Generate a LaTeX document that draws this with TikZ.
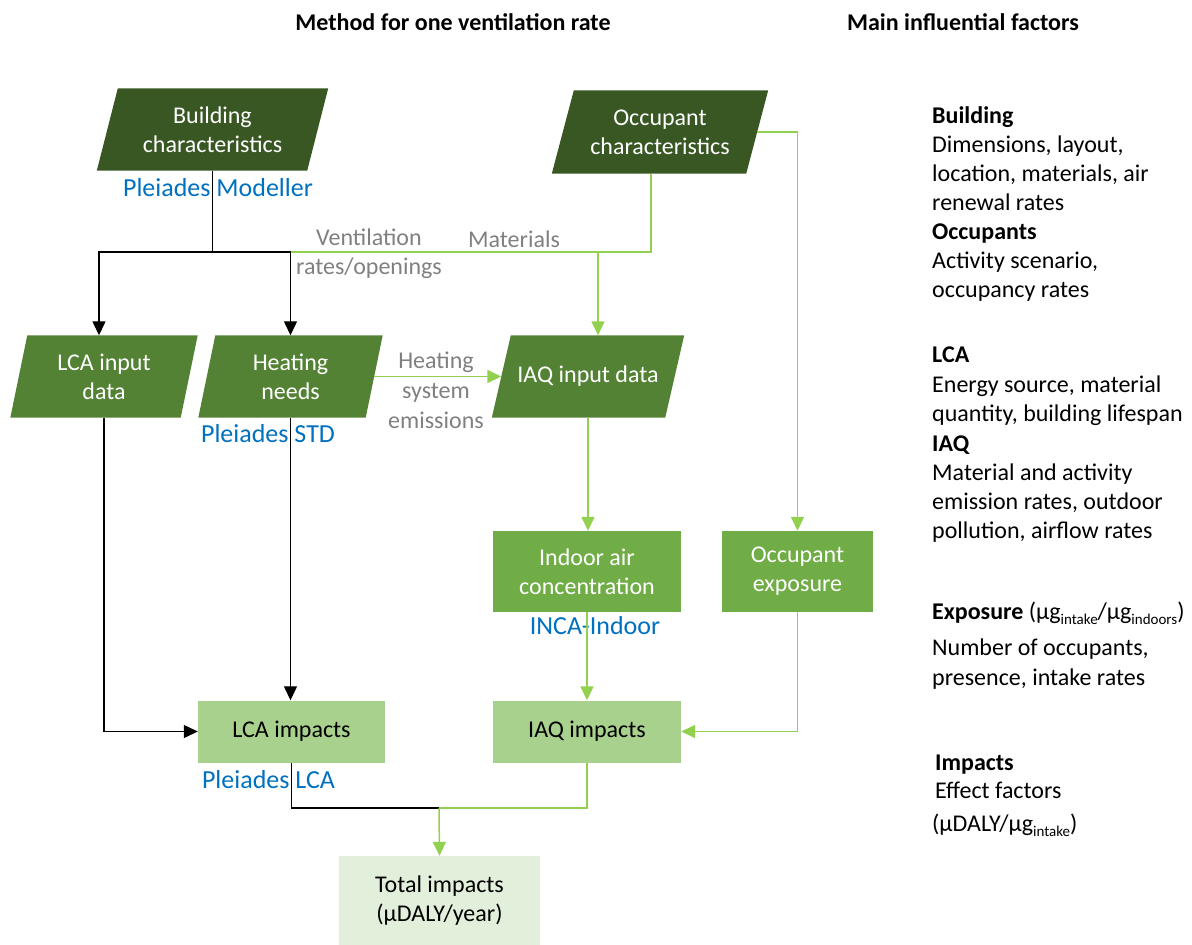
\documentclass[tikz,border=0pt]{standalone}
\usepackage{fontspec}
\setmainfont{Carlito}
\usetikzlibrary{arrows.meta,backgrounds,calc}
\definecolor{dkgreen}{HTML}{385723}
\definecolor{mdgreen}{HTML}{548235}
\definecolor{gthree}{HTML}{70AD47}
\definecolor{ltgreen}{HTML}{A9D18E}
\definecolor{vltgreen}{HTML}{E2EFDA}
\definecolor{lgreen}{HTML}{92D050}
\definecolor{tblue}{HTML}{0070C0}
\definecolor{tgray}{HTML}{808080}
\newcommand{\drawpara}[3]{\fill[#2] ([xshift=#3]#1.north west) -- ([xshift=#3]#1.north east) -- ([xshift=-#3]#1.south east) -- ([xshift=-#3]#1.south west) -- cycle;}
\newcommand{\lowsub}[1]{\raisebox{-4.5pt}{\fontsize{15}{15}\selectfont #1}}
\begin{document}
\begin{tikzpicture}[x=1pt,y=-1pt,
  base/.style={font=\fontsize{24}{29}\selectfont},
  pbox/.style={base,text=white,align=center,inner sep=0},
  rbox/.style={base,align=center,inner sep=0},
  lbl/.style={base,inner sep=0,text height=20pt,text depth=2.5pt},
  blbl/.style={lbl,text=tblue,font=\fontsize{26}{29}\selectfont},
  glbl/.style={base,text=tgray,align=center,inner sep=0},
  ttl/.style={lbl,font=\fontsize{24}{29}\selectfont\bfseries},
  bln/.style={line width=1.3pt,draw=black},
  gln/.style={line width=1.5pt,draw=lgreen},
  arr/.style={-{Triangle[width=13pt,length=14pt]}}]
\useasboundingbox (0,0) rectangle (1192,945);

% titles
\node[ttl] (t1) at (453,22) {Method for one ventilation rate};
\node[ttl] (t2) at (963,22) {Main influential factors};

% parallelogram nodes
\node[pbox,minimum width=210pt,minimum height=82pt] (bc) at (212.5,129.5) {Building\\characteristics};
\node[pbox,minimum width=194pt,minimum height=83pt] (oc) at (660,132) {Occupant\\characteristics};
\node[pbox,minimum width=170pt,minimum height=82pt] (lcain) at (104,376.5) {LCA input\\data};
\node[pbox,minimum width=167pt,minimum height=82pt] (heat) at (290.5,376.5) {Heating\\needs};
\node[pbox,minimum width=173pt,minimum height=82pt] (iaqin) at (588,376.5) {IAQ input data};
\begin{scope}[on background layer]
\drawpara{bc}{dkgreen}{10.5pt}
\drawpara{oc}{dkgreen}{11pt}
\drawpara{lcain}{mdgreen}{8.5pt}
\drawpara{heat}{mdgreen}{8.5pt}
\drawpara{iaqin}{mdgreen}{9.5pt}
\end{scope}

% rectangle nodes
\node[pbox,fill=gthree,minimum width=188pt,minimum height=81pt] (iac) at (587,571.5) {Indoor air\\concentration};
\node[pbox,fill=gthree,minimum width=151pt,minimum height=81pt] (oexp) at (797.5,571.5) {Occupant\\exposure};
\node[rbox,fill=ltgreen,minimum width=187pt,minimum height=62pt] (lcaimp) at (291.5,731.5) {LCA impacts};
\node[rbox,fill=ltgreen,minimum width=188pt,minimum height=62pt] (iaqimp) at (587,731.5) {IAQ impacts};
\node[rbox,fill=vltgreen,minimum width=201pt,minimum height=89pt] (tot) at (439.5,900.5) {Total impacts\\(µDALY/year)};

% tool labels
\node[blbl] (pm) at (218,188) {Pleiades Modeller};
\node[blbl] (pstd) at (268,434) {Pleiades STD};
\node[blbl] (inca) at (595,626) {INCA-Indoor};
\node[blbl] (plca) at (268.5,780) {Pleiades LCA};

% connector labels
\node[glbl] (lvent) at (369,254) {Ventilation\\rates/openings};
\node[glbl] (lmat) at (514,239.5) {Materials};
\node[glbl,font=\fontsize{24}{30}\selectfont] (lheat) at (436,390) {Heating\\system\\emissions};

% junctions
\coordinate (j1) at (bc.south |- 0,252);
\coordinate (j2) at ([xshift=10pt]iaqin.north |- j1);
\coordinate (j3) at (439,808);

% black connectors
\draw[bln] (bc.south) -- (j1);
\draw[bln,arr] (j1) -| ([xshift=-5pt]lcain.north);
\draw[bln,arr] (j1) -| (heat.north);
\draw[bln,arr] (lcain.south) |- (lcaimp.west);
\draw[bln,arr] (heat.south) -- (heat.south |- lcaimp.north);
\draw[bln] (lcaimp.south) |- (j3);

% green connectors
\draw[gln] (heat.north |- j1) -- (j2);
\draw[gln] ([xshift=-9pt]oc.south) |- (j2);
\draw[gln,arr] (j2) -- ([xshift=10pt]iaqin.north);
\draw[gln,arr] (oc.east) -| (oexp.north);
\draw[gln,arr] (heat.east) -- (iaqin.west);
\draw[gln,arr] (iaqin.south) -- (iaqin.south |- iac.north);
\draw[gln,arr] (iac.south) -- (iaqimp.north);
\draw[gln,arr] (oexp.south) |- (iaqimp.east);
\draw[gln] (iaqimp.south) |- (j3);
\draw[gln,arr] (j3) -- (tot.north);

% right column
\node[lbl,anchor=west] (r1) at (932,115) {\textbf{Building}};
\node[lbl,anchor=west] (r2) at (932,144) {Dimensions, layout,};
\node[lbl,anchor=west] (r3) at (932,173) {location, materials, air};
\node[lbl,anchor=west] (r4) at (932,202) {renewal rates};
\node[lbl,anchor=west] (r5) at (932,231) {\textbf{Occupants}};
\node[lbl,anchor=west] (r6) at (932,260) {Activity scenario,};
\node[lbl,anchor=west] (r7) at (932,289) {occupancy rates};
\node[lbl,anchor=west] (r8) at (932,354) {\textbf{LCA}};
\node[lbl,anchor=west] (r9) at (932,384) {Energy source, material};
\node[lbl,anchor=west] (r10) at (932,413) {quantity, building lifespan};
\node[lbl,anchor=west] (r11) at (932,443) {\textbf{IAQ}};
\node[lbl,anchor=west] (r12) at (932,472) {Material and activity};
\node[lbl,anchor=west] (r13) at (932,501) {emission rates, outdoor};
\node[lbl,anchor=west] (r14) at (932,530) {pollution, airflow rates};
\node[lbl,anchor=west] (r15) at (932,611) {\textbf{Exposure} (µg\lowsub{intake}/µg\lowsub{indoors})};
\node[lbl,anchor=west] (r16) at (932,647) {Number of occupants,};
\node[lbl,anchor=west] (r17) at (932,677) {presence, intake rates};
\node[lbl,anchor=west] (r18) at (935,762) {\textbf{Impacts}};
\node[lbl,anchor=west] (r19) at (935,790) {Effect factors};
\node[lbl,anchor=west] (r20) at (932,823) {(µDALY/µg\lowsub{intake})};
\end{tikzpicture}
\end{document}
